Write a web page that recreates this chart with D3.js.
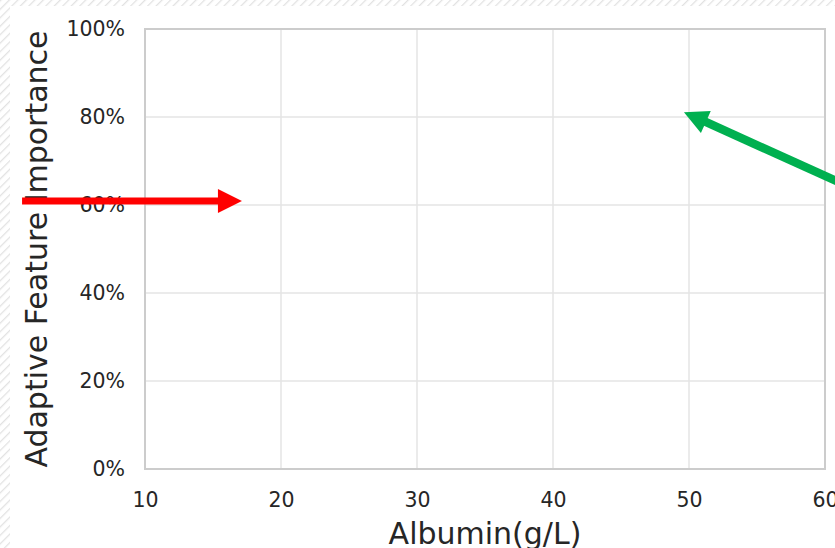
<!DOCTYPE html>
<html>
<head>
<meta charset="utf-8">
<script src="https://cdn.jsdelivr.net/npm/d3@7"></script>
<style>
  html, body { margin: 0; padding: 0; background: #fff; }
  svg { display: block; }
  text { font-family: "DejaVu Sans", sans-serif; fill: #262626; }
</style>
</head>
<body>
<svg id="chart" width="835" height="548"></svg>
<script>
// ---- data ----
const xTicks = [10, 20, 30, 40, 50, 60];
const yTicks = [0, 0.2, 0.4, 0.6, 0.8, 1.0];
const xDomain = [10, 60];
const yDomain = [0, 1];
const xLabel = "Albumin(g/L)";
const yLabel = "Adaptive Feature Importance";
// annotation arrows: [from x, from y] -> [to x, to y] in data units
const arrowNames = ["red", "green"];
const arrowFrom = [[0.96, 0.609], [62.6, 0.63]];
const arrowTo = [[17.13, 0.609], [49.63, 0.811]];
const arrowColors = ["#ff0000", "#00b050"];
const arrowWidths = [7, 8.5];

// ---- layout ----
const W = 835, H = 548;
const svg = d3.select("#chart");

// hatched background with white panel
const defs = svg.append("defs");
const pat = defs.append("pattern")
  .attr("id", "hatch").attr("patternUnits", "userSpaceOnUse")
  .attr("width", 6).attr("height", 6)
  .attr("patternTransform", "rotate(45)");
pat.append("rect").attr("width", 6).attr("height", 6).attr("fill", "#fff");
pat.append("line").attr("x1", 0).attr("y1", 0).attr("x2", 0).attr("y2", 6)
  .attr("stroke", "#e2e2e2").attr("stroke-width", 2.5);
svg.append("rect").attr("width", W).attr("height", H).attr("fill", "url(#hatch)");
svg.append("rect").attr("x", 10).attr("y", 6).attr("width", W).attr("height", H).attr("fill", "#fff");

const x = d3.scaleLinear().domain(xDomain).range([145, 825]);
const y = d3.scaleLinear().domain(yDomain).range([469, 29]);

// grid
const grid = svg.append("g");
grid.selectAll(".gx").data(xTicks.slice(1, -1)).join("line")
  .attr("x1", d => x(d)).attr("x2", d => x(d))
  .attr("y1", y(1)).attr("y2", y(0))
  .attr("stroke", "#e5e5e5").attr("stroke-width", 1.5);
grid.selectAll(".gy").data(yTicks.slice(1, -1)).join("line")
  .attr("x1", x(10)).attr("x2", x(60))
  .attr("y1", d => y(d)).attr("y2", d => y(d))
  .attr("stroke", "#e5e5e5").attr("stroke-width", 1.5);

// frame
svg.append("rect")
  .attr("x", x(10)).attr("y", y(1))
  .attr("width", x(60) - x(10)).attr("height", y(0) - y(1))
  .attr("fill", "none").attr("stroke", "#cccccc").attr("stroke-width", 2);

// axes (labels only)
const xAxis = d3.axisBottom(x).tickValues(xTicks).tickSize(0).tickPadding(0).tickFormat(d3.format("d"));
const gx = svg.append("g").attr("transform", `translate(0,${y(0)})`).call(xAxis);
gx.select(".domain").remove();
gx.selectAll("text").attr("dy", null).attr("y", 38)
  .style("font-size", "20.5px").style("font-family", "DejaVu Sans").attr("fill", "#262626");

const yAxis = d3.axisLeft(y).tickValues(yTicks).tickSize(0).tickPadding(20).tickFormat(d3.format(".0%"));
const gy = svg.append("g").attr("transform", `translate(${x(10)},0)`).call(yAxis);
gy.select(".domain").remove();
gy.selectAll("text").style("font-size", "20.5px").style("font-family", "DejaVu Sans").attr("fill", "#262626");

// axis titles
svg.append("text").attr("x", (x(10) + x(60)) / 2).attr("y", 544)
  .attr("text-anchor", "middle").style("font-size", "30px").text(xLabel);
svg.append("text").attr("transform", `translate(47,${(y(0) + y(1)) / 2}) rotate(-90)`)
  .attr("text-anchor", "middle").style("font-size", "30px").text(yLabel);

// arrows
const headLen = 24, headHalf = 12;
arrowNames.forEach((name, i) => {
  const x0 = x(arrowFrom[i][0]), y0 = y(arrowFrom[i][1]);
  const x1 = x(arrowTo[i][0]), y1 = y(arrowTo[i][1]);
  const dx = x1 - x0, dy = y1 - y0, L = Math.hypot(dx, dy);
  const ux = dx / L, uy = dy / L, px = -uy, py = ux;
  const bx = x1 - ux * headLen, by = y1 - uy * headLen;
  const g = svg.append("g").attr("class", "arrow-" + name);
  g.append("line").attr("x1", x0).attr("y1", y0).attr("x2", bx + ux * 2).attr("y2", by + uy * 2)
    .attr("stroke", arrowColors[i]).attr("stroke-width", arrowWidths[i]);
  g.append("path")
    .attr("d", `M${x1},${y1}L${bx + px * headHalf},${by + py * headHalf}L${bx - px * headHalf},${by - py * headHalf}Z`)
    .attr("fill", arrowColors[i]);
});
</script>
</body>
</html>
